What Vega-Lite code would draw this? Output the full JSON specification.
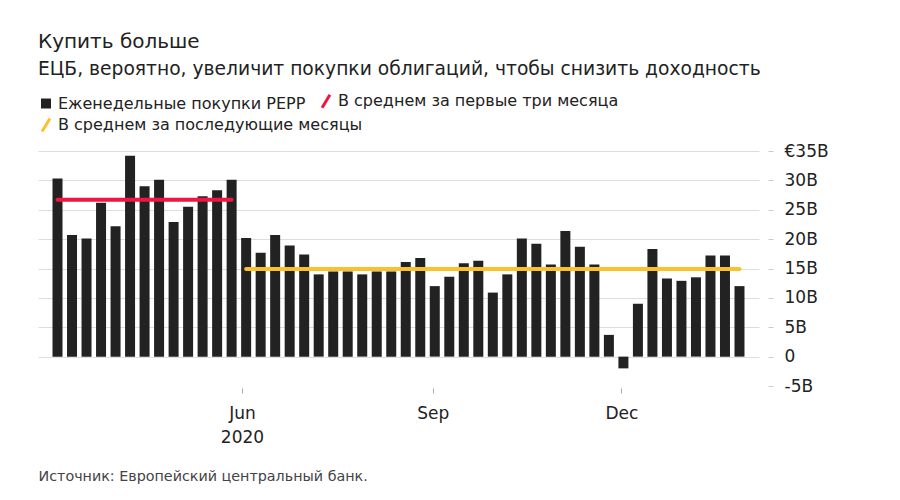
{
  "$schema": "https://vega.github.io/schema/vega-lite/v6.json",
  "width": 721,
  "height": 235,
  "autosize": "none",
  "padding": {"left": 38, "top": 151, "right": 141, "bottom": 114},
  "background": "white",
  "config": {"font": "DejaVu Sans", "view": {"stroke": null}},
  "title": {
    "text": "Купить больше",
    "subtitle": "ЕЦБ, вероятно, увеличит покупки облигаций, чтобы снизить доходность",
    "anchor": "start",
    "frame": "group",
    "fontSize": 20,
    "fontWeight": "normal",
    "color": "#222222",
    "subtitleFontSize": 18.7,
    "subtitleColor": "#222222",
    "subtitlePadding": 8,
    "offset": 14
  },
  "datasets": {
    "weekly": [
      {"date": "2020-03-04", "value": 30.3},
      {"date": "2020-03-11", "value": 20.7},
      {"date": "2020-03-18", "value": 20.1},
      {"date": "2020-03-25", "value": 26.2},
      {"date": "2020-04-01", "value": 22.2},
      {"date": "2020-04-08", "value": 34.2},
      {"date": "2020-04-15", "value": 29.0},
      {"date": "2020-04-22", "value": 30.1},
      {"date": "2020-04-29", "value": 22.9},
      {"date": "2020-05-06", "value": 25.5},
      {"date": "2020-05-13", "value": 27.3},
      {"date": "2020-05-20", "value": 28.3},
      {"date": "2020-05-27", "value": 30.1},
      {"date": "2020-06-03", "value": 20.2},
      {"date": "2020-06-10", "value": 17.7},
      {"date": "2020-06-17", "value": 20.7},
      {"date": "2020-06-24", "value": 18.9},
      {"date": "2020-07-01", "value": 17.4},
      {"date": "2020-07-08", "value": 14.0},
      {"date": "2020-07-15", "value": 14.5},
      {"date": "2020-07-22", "value": 14.5},
      {"date": "2020-07-29", "value": 14.0},
      {"date": "2020-08-05", "value": 14.5},
      {"date": "2020-08-12", "value": 14.5},
      {"date": "2020-08-19", "value": 16.1},
      {"date": "2020-08-26", "value": 16.8},
      {"date": "2020-09-02", "value": 12.0},
      {"date": "2020-09-09", "value": 13.6},
      {"date": "2020-09-16", "value": 15.9},
      {"date": "2020-09-23", "value": 16.3},
      {"date": "2020-09-30", "value": 10.9},
      {"date": "2020-10-07", "value": 14.0},
      {"date": "2020-10-14", "value": 20.1},
      {"date": "2020-10-21", "value": 19.2},
      {"date": "2020-10-28", "value": 15.7},
      {"date": "2020-11-04", "value": 21.4},
      {"date": "2020-11-11", "value": 18.7},
      {"date": "2020-11-18", "value": 15.7},
      {"date": "2020-11-25", "value": 3.7},
      {"date": "2020-12-02", "value": -2.0},
      {"date": "2020-12-09", "value": 9.0},
      {"date": "2020-12-16", "value": 18.3},
      {"date": "2020-12-23", "value": 13.3},
      {"date": "2020-12-30", "value": 12.9},
      {"date": "2021-01-06", "value": 13.5},
      {"date": "2021-01-13", "value": 17.2},
      {"date": "2021-01-20", "value": 17.2},
      {"date": "2021-01-27", "value": 12.0}
    ],
    "averages": [
      {"start": "2020-03-04", "end": "2020-05-27", "value": 26.7, "series": "В среднем за первые три месяца"},
      {"start": "2020-06-03", "end": "2021-01-27", "value": 14.9, "series": "В среднем за последующие месяцы"}
    ]
  },
  "layer": [
    {
      "data": {"name": "weekly"},
      "mark": {"type": "bar", "size": 10},
      "encoding": {
        "x": {
          "field": "date",
          "type": "temporal",
          "scale": {
            "type": "utc",
            "domain": [
              {"year": 2020, "month": 2, "date": 26, "utc": true},
              {"year": 2021, "month": 2, "date": 3, "utc": true}
            ]
          },
          "axis": {
            "values": [
              {"year": 2020, "month": 6, "date": 1, "utc": true},
              {"year": 2020, "month": 9, "date": 1, "utc": true},
              {"year": 2020, "month": 12, "date": 1, "utc": true}
            ],
            "tickCount": 20,
            "labelExpr": "utcFormat(datum.value, '%b') == 'Jun' ? ['Jun', '2020'] : utcFormat(datum.value, '%b')",
            "grid": false,
            "domain": false,
            "offset": 2,
            "tickSize": 5,
            "tickColor": "#aaaaaa",
            "labelFontSize": 17,
            "labelColor": "#222222",
            "labelPadding": 12,
            "labelLineHeight": 24,
            "labelOverlap": false,
            "labelFlush": false,
            "title": "Источник: Европейский центральный банк.",
            "titleAnchor": "start",
            "titleAlign": "left",
            "titleFontSize": 14.3,
            "titleFontWeight": "normal",
            "titleColor": "#444444",
            "titlePadding": 24
          }
        },
        "y": {
          "field": "value",
          "type": "quantitative",
          "scale": {"domain": [-5, 35], "nice": false, "zero": false},
          "axis": {
            "orient": "right",
            "values": [-5, 0, 5, 10, 15, 20, 25, 30, 35],
            "tickCount": 20,
            "labelExpr": "datum.value == 35 ? '€35B' : datum.value == 0 ? '0' : datum.value + 'B'",
            "offset": 9,
            "tickSize": 5,
            "tickColor": "#cccccc",
            "domain": false,
            "grid": true,
            "gridColor": {"condition": {"test": "datum.value < 0", "value": "transparent"}, "value": "#dddddd"},
            "labelFontSize": 17,
            "labelColor": "#222222",
            "labelPadding": 11,
            "labelOverlap": false,
            "labelFlush": false,
            "title": null
          }
        },
        "color": {
          "datum": "Еженедельные покупки PEPP",
          "type": "nominal",
          "scale": {
            "domain": ["Еженедельные покупки PEPP", "В среднем за первые три месяца"],
            "range": ["#222222", "#f1163f"]
          },
          "legend": {
            "title": null,
            "orient": "none",
            "legendX": 0,
            "legendY": -58,
            "direction": "horizontal",
            "columnPadding": 10,
            "symbolSize": 169,
            "labelFontSize": 16,
            "labelColor": "#222222",
            "labelOffset": 4,
            "labelLimit": 400,
            "encode": {
              "symbols": {
                "update": {
                  "shape": {"signal": "datum.value === 'Еженедельные покупки PEPP' ? 'square' : 'M-0.6,1L0.6,-1'"},
                  "size": {"signal": "datum.value === 'Еженедельные покупки PEPP' ? 100 : 169"},
                  "fill": {"signal": "datum.value === 'Еженедельные покупки PEPP' ? '#222222' : 'transparent'"},
                  "stroke": {"signal": "datum.value === 'Еженедельные покупки PEPP' ? 'transparent' : '#f1163f'"},
                  "strokeWidth": {"signal": "datum.value === 'Еженедельные покупки PEPP' ? 0 : 3"},
                  "opacity": {"value": 1}
                }
              }
            }
          }
        }
      }
    },
    {
      "mark": {"type": "rule", "color": "#333333", "strokeWidth": 1.5},
      "encoding": {"y": {"datum": 0}}
    },
    {
      "data": {"name": "averages"},
      "transform": [{"filter": "datum.series === 'В среднем за первые три месяца'"}],
      "mark": {"type": "rule", "strokeWidth": 4, "strokeCap": "round"},
      "encoding": {
        "x": {"field": "start", "type": "temporal"},
        "x2": {"field": "end"},
        "y": {"field": "value", "type": "quantitative"},
        "color": {"field": "series", "type": "nominal", "legend": {"title": null}}
      }
    },
    {
      "data": {"name": "averages"},
      "transform": [{"filter": "datum.series === 'В среднем за последующие месяцы'"}],
      "mark": {"type": "rule", "strokeWidth": 4, "strokeCap": "round"},
      "encoding": {
        "x": {"field": "start", "type": "temporal"},
        "x2": {"field": "end"},
        "y": {"field": "value", "type": "quantitative"},
        "stroke": {
          "field": "series",
          "type": "nominal",
          "scale": {"domain": ["В среднем за последующие месяцы"], "range": ["#fcc02a"]},
          "legend": {
            "title": null,
            "orient": "none",
            "legendX": 0,
            "legendY": -34,
            "symbolType": "M-0.6,1L0.6,-1",
            "symbolSize": 169,
            "symbolStrokeWidth": 3,
            "symbolFillColor": "transparent",
            "labelFontSize": 16,
            "labelColor": "#222222",
            "labelOffset": 4,
            "labelLimit": 400
          }
        }
      }
    }
  ]
}
